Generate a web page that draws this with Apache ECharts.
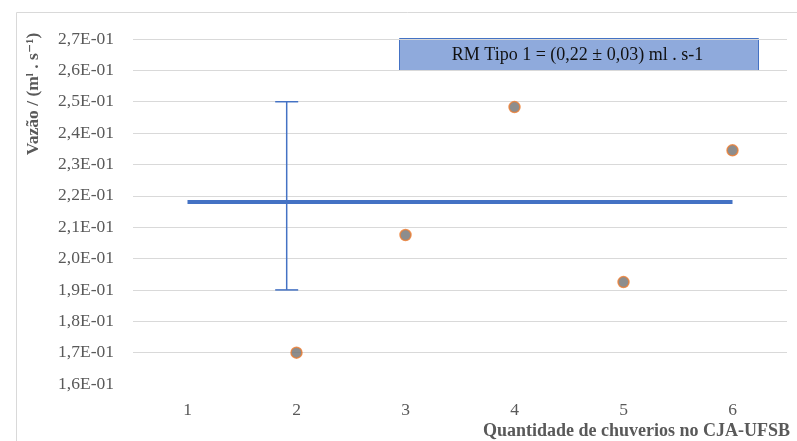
<!DOCTYPE html>
<html>
<head>
<meta charset="utf-8">
<script src="https://cdn.jsdelivr.net/npm/echarts@6/dist/echarts.min.js"></script>
<style>html,body{margin:0;padding:0;background:#fff}#c{width:797px;height:441px}</style>
</head>
<body>
<div id="c"></div>
<script>
const categories = ['1', '2', '3', '4', '5', '6'];
const pointValues = [null, 0.170, 0.2075, 0.2483, 0.1925, 0.2345];
const meanValue = 0.218;
const meanLine = categories.map(() => meanValue);
const errorBar = [[1, 0.19, 0.25]];
const yTickLabels = ['1,6E-01','1,7E-01','1,8E-01','1,9E-01','2,0E-01','2,1E-01','2,2E-01','2,3E-01','2,4E-01','2,5E-01','2,6E-01','2,7E-01'];
const yMin = 0.16, yMax = 0.27, yStep = 0.01;
const boxText = 'RM Tipo 1 = (0,22 ± 0,03) ml . s-1';
const yTitle = 'Vazão / (mˡ . s⁻¹)';
const xTitle = 'Quantidade de chuverios no CJA-UFSB';

const serif = '"Liberation Serif", "DejaVu Serif", serif';
const chart = echarts.init(document.getElementById('c'));
chart.setOption({
  animation: false,
  grid: { left: 133, right: 10, top: 39, bottom: 57 },
  xAxis: {
    type: 'category',
    data: categories,
    boundaryGap: true,
    axisLine: { show: false },
    axisTick: { show: false },
    axisLabel: { fontFamily: serif, fontSize: 17.5, color: '#595959', margin: 17 }
  },
  yAxis: {
    type: 'value',
    min: yMin, max: yMax, interval: yStep,
    axisLine: { show: false },
    axisTick: { show: false },
    axisLabel: {
      fontFamily: serif, fontSize: 17.5, color: '#595959', margin: 19,
      formatter: v => yTickLabels[Math.round((v - yMin) / yStep)]
    },
    splitLine: { show: true, showMinLine: false, lineStyle: { color: '#d9d9d9', width: 1 } }
  },
  graphic: [
    { type: 'rect', left: 14, top: 10, shape: { width: 800, height: 440 }, style: { fill: 'none', stroke: '#d9d9d9', lineWidth: 1 }, z: -1 },
    { type: 'group', left: 399, top: 38, children: [
      { type: 'rect', shape: { x: 0, y: 0, width: 359, height: 32 }, style: { fill: '#8FAADC', stroke: '#4472C4', lineWidth: 1 } },
      { type: 'text', x: 178, y: 17, style: { text: boxText, font: '18px ' + serif, fill: '#111', textAlign: 'center', textVerticalAlign: 'middle' } }
    ], z: 10 },
    { type: 'text', x: 33, y: 94, rotation: Math.PI / 2, style: { text: yTitle, font: 'bold 17.5px ' + serif, fill: '#595959', textAlign: 'center', textVerticalAlign: 'middle' } },
    { type: 'text', x: 790, y: 431, style: { text: xTitle, font: 'bold 18px ' + serif, fill: '#595959', textAlign: 'right', textVerticalAlign: 'middle' } }
  ],
  series: [
    {
      type: 'line', data: meanLine, symbol: 'none',
      lineStyle: { color: '#4472C4', width: 4 }, z: 3
    },
    {
      type: 'custom', data: errorBar, z: 4,
      renderItem: (params, api) => {
        const lo = api.coord([api.value(0), api.value(1)]);
        const hi = api.coord([api.value(0), api.value(2)]);
        const bw = api.size([1, 0])[0];
        const x = lo[0] - bw * 0.09;
        const cap = 11.5;
        const st = { stroke: '#4472C4', lineWidth: 1.5 };
        return { type: 'group', children: [
          { type: 'line', shape: { x1: x, y1: lo[1], x2: x, y2: hi[1] }, style: st },
          { type: 'line', shape: { x1: x - cap, y1: lo[1], x2: x + cap, y2: lo[1] }, style: st },
          { type: 'line', shape: { x1: x - cap, y1: hi[1], x2: x + cap, y2: hi[1] }, style: st }
        ]};
      }
    },
    {
      type: 'scatter', data: pointValues, symbolSize: 11, z: 5,
      itemStyle: { color: '#707070', borderColor: '#ED7D31', borderWidth: 1.5 }
    }
  ]
});
</script>
</body>
</html>
